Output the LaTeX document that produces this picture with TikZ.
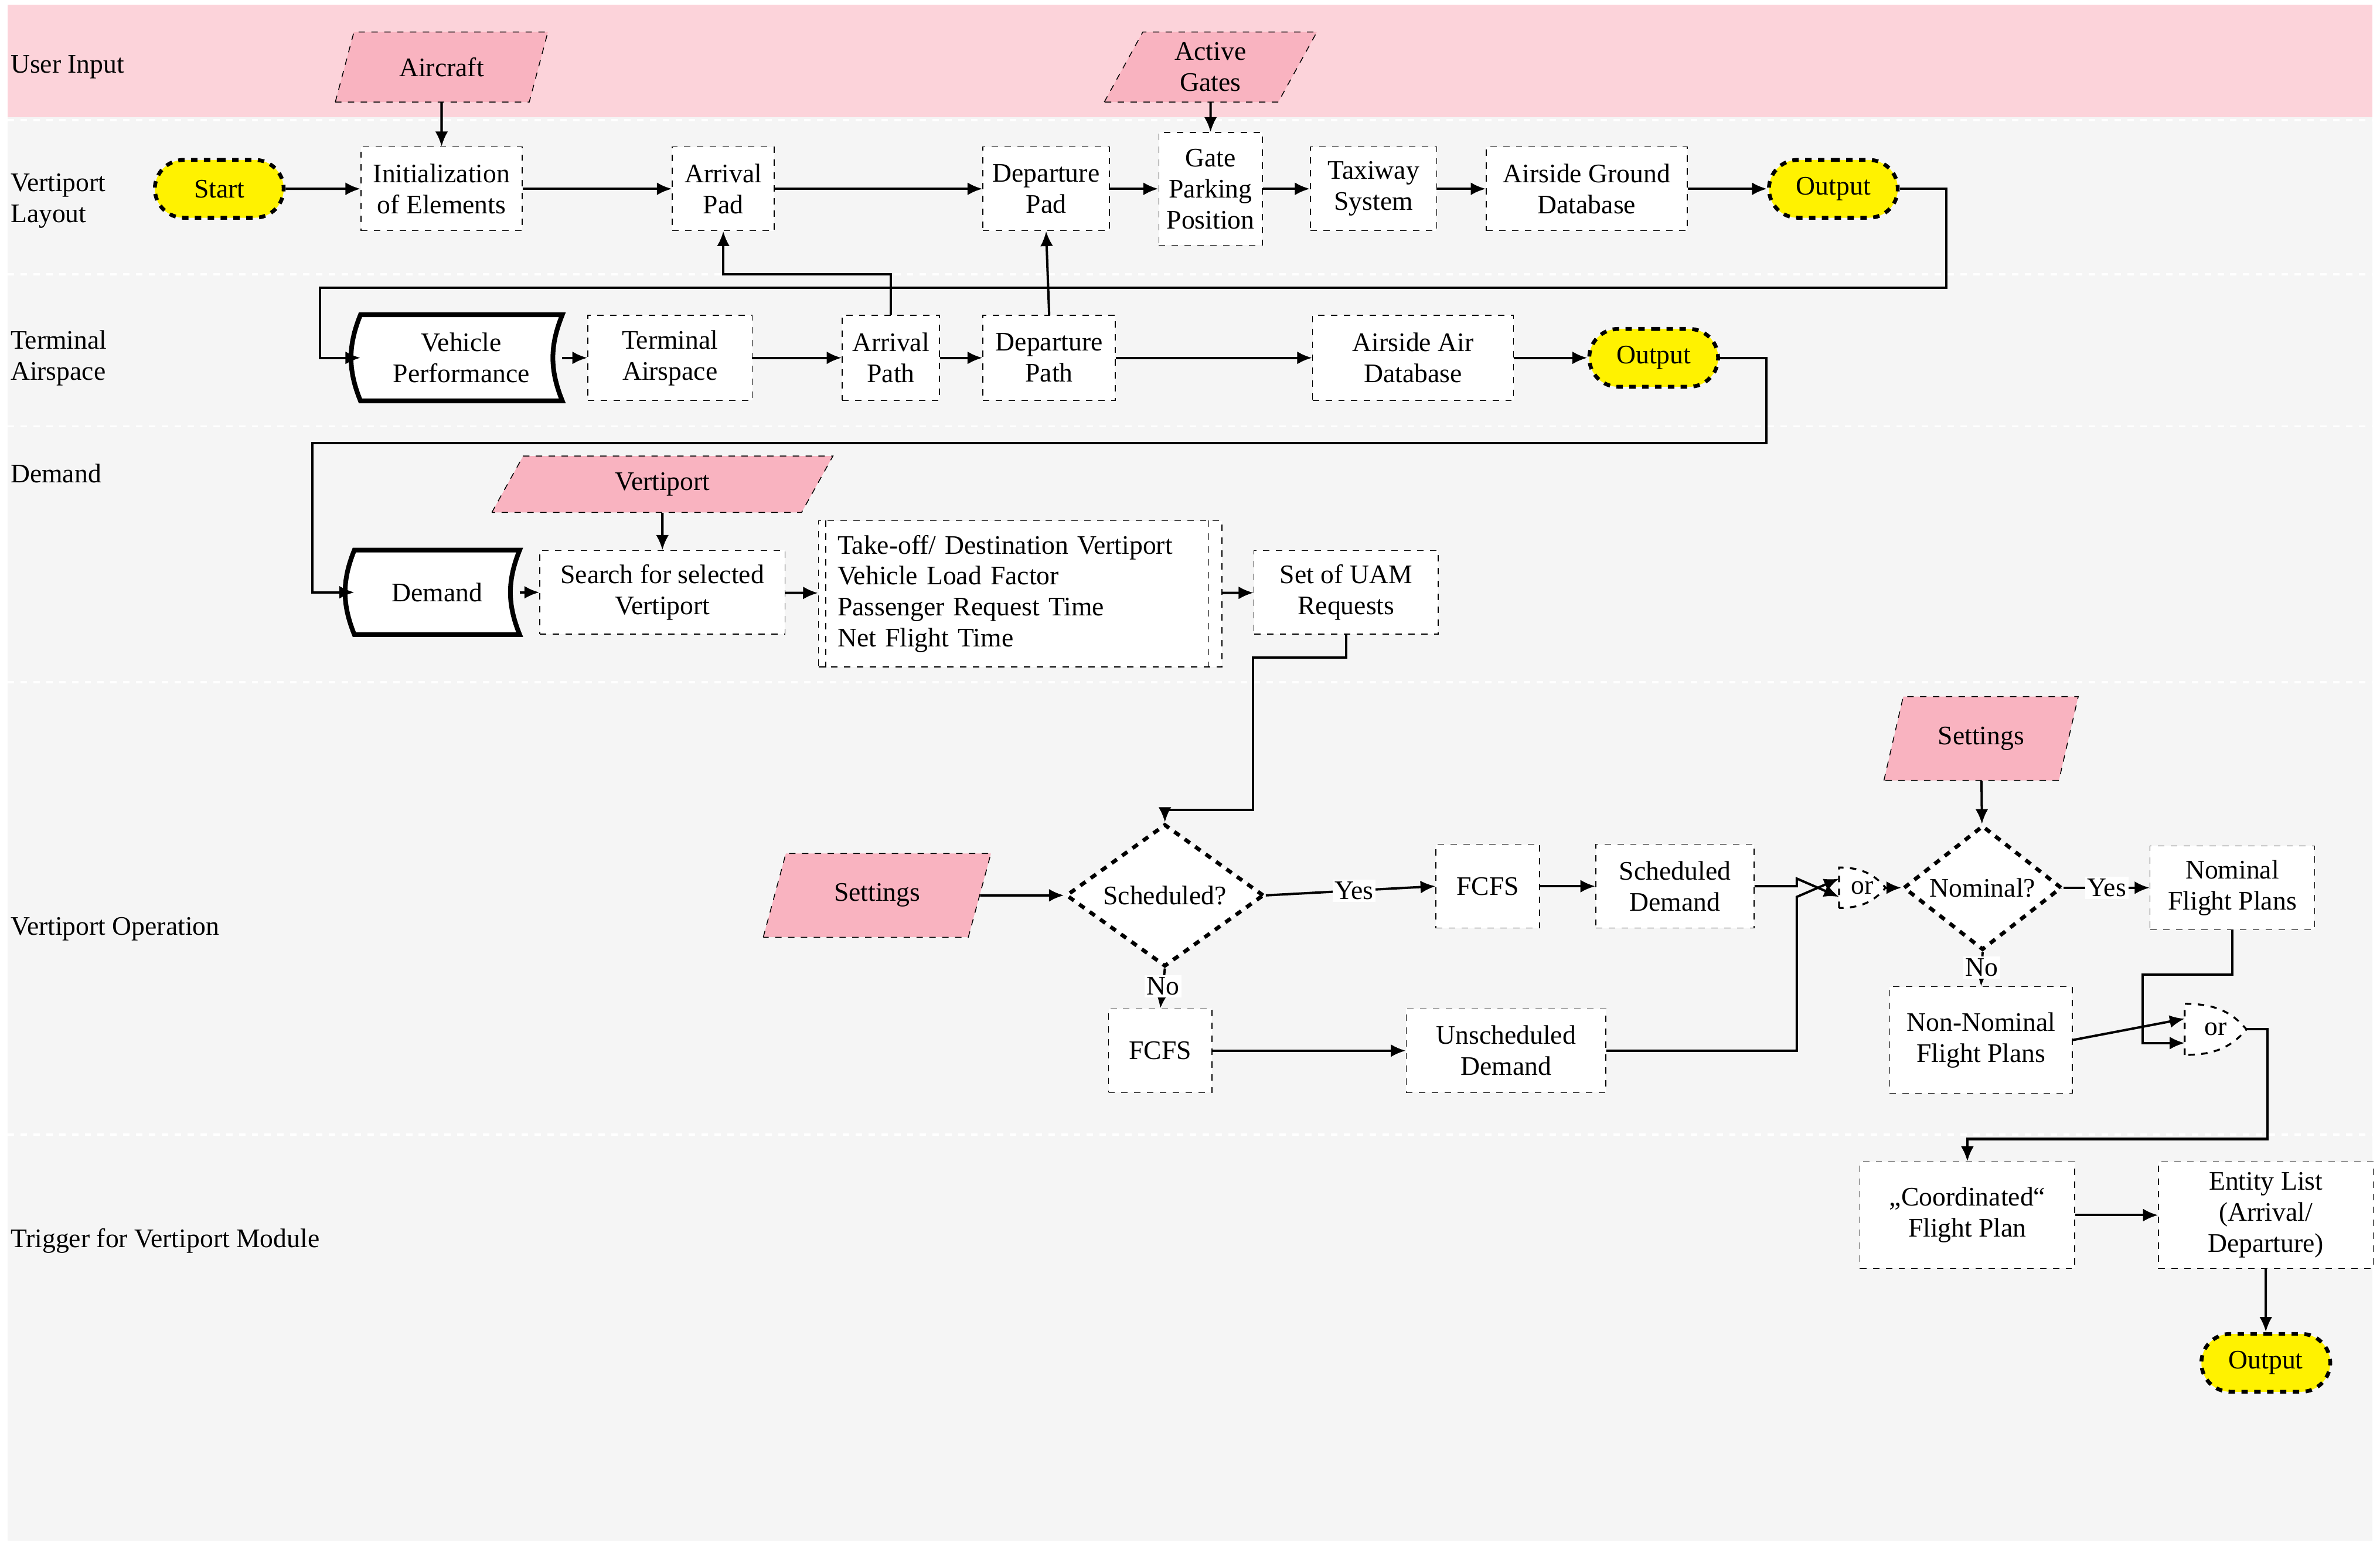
\documentclass[tikz,border=0pt]{standalone}
\usepackage{fontspec}
\setmainfont{Liberation Serif}
\usetikzlibrary{shapes.geometric,shapes.misc,arrows.meta,backgrounds}
\newdimen\pxu \pxu=0.025cm
\definecolor{lanegray}{HTML}{F5F5F5}
\definecolor{lanepink}{HTML}{FCD3DA}
\definecolor{datapink}{HTML}{F9B3C0}
\definecolor{termyellow}{HTML}{FFF200}
\pgfdeclarelayer{lanes}
\pgfdeclarelayer{shapes}
\pgfsetlayers{lanes,shapes,main}
\tikzset{
  proc/.style={draw,dashed,fill=white,align=center,inner sep=2pt},
  data/.style={trapezium,trapezium left angle=68,trapezium right angle=112,trapezium stretches=true,draw,dashed,fill=datapink,align=center,inner sep=1pt},
  term/.style={rounded rectangle,draw,dashed,line width=1.8pt,fill=termyellow,minimum width=94\pxu,minimum height=38\pxu},
  decide/.style={diamond,draw,dashed,line width=1.8pt,fill=white,inner sep=0pt,minimum width=130\pxu,minimum height=56\pxu},
  lane/.style={anchor=west,align=left},
  lbl/.style={fill=white,inner sep=1pt},
  arr/.style={line width=1.1pt,-{Latex[length=7pt,width=6pt]}},
  ln/.style={line width=1.1pt},
}
\begin{document}
\begin{tikzpicture}[x=0.025cm,y=-0.025cm,font=\fontsize{12.5}{14.5}\selectfont]
\useasboundingbox (0,0) rectangle (1563,1015);
% swim lanes
\begin{pgfonlayer}{lanes}
\fill[lanegray] (5,3) rectangle (1558,1012);
\fill[lanepink] (5,3) rectangle (1558,77);
\foreach \y in {79,180,280,448,745}
  \draw[white,dashed,line width=1pt] (5,\y) -- (1558,\y);
\end{pgfonlayer}
\node[lane] at (2,44) {User Input};
\node[lane] at (2,132) {Vertiport\\Layout};
\node[lane] at (2,235) {Terminal\\Airspace};
\node[lane] at (2,311) {Demand};
\node[lane] at (2,610) {Vertiport Operation};
\node[lane] at (2,815) {Trigger for Vertiport Module};

% vertiport layout
\node[data,minimum width=140\pxu,minimum height=46\pxu] (aircraft) at (290,44) {Aircraft};
\node[data,minimum width=140\pxu,minimum height=46\pxu] (gates) at (795,44) {Active\\Gates};
\node[term] (start) at (144,124) {Start};
\node[proc,minimum width=106\pxu,minimum height=55\pxu] (init) at (290,124) {Initialization\\of Elements};
\node[proc,minimum width=67\pxu,minimum height=55\pxu] (apad) at (475,124) {Arrival\\Pad};
\node[proc,minimum width=83\pxu,minimum height=55\pxu] (dpad) at (687,124) {Departure\\Pad};
\node[proc,minimum width=68\pxu,minimum height=74\pxu] (gpp) at (795,124) {Gate\\Parking\\Position};
\node[proc,minimum width=83\pxu,minimum height=55\pxu] (taxi) at (902,124) {Taxiway\\System};
\node[proc,minimum width=132\pxu,minimum height=55\pxu] (agdb) at (1042,124) {Airside Ground\\Database};
\node[term] (outA) at (1204,124) {Output};
\draw[arr] (aircraft) -- (init);
\draw[arr] (gates) -- (gpp);
\draw[arr] (start) -- (init);
\draw[arr] (init) -- (apad);
\draw[arr] (apad) -- (dpad);
\draw[arr] (dpad) -- (gpp);
\draw[arr] (gpp) -- (taxi);
\draw[arr] (taxi) -- (agdb);
\draw[arr] (agdb) -- (outA);

% terminal airspace
\node[minimum width=132\pxu,minimum height=56\pxu,align=center] (vperf) at (303,235) {Vehicle\\Performance};
\node[proc,minimum width=108\pxu,minimum height=56\pxu] (tair) at (440,235) {Terminal\\Airspace};
\node[proc,minimum width=64\pxu,minimum height=56\pxu] (apath) at (585,235) {Arrival\\Path};
\node[proc,minimum width=87\pxu,minimum height=56\pxu] (dpath) at (689,235) {Departure\\Path};
\node[proc,minimum width=132\pxu,minimum height=56\pxu] (aadb) at (928,235) {Airside Air\\Database};
\node[term] (outB) at (1086,235) {Output};
\draw[arr] (outA.east) -- (1278,124) -- (1278,189) -- (210,189) |- (vperf.west);
\draw[arr] (vperf) -- (tair);
\draw[arr] (tair) -- (apath);
\draw[arr] (apath) -- (dpath);
\draw[arr] (dpath) -- (aadb);
\draw[arr] (aadb) -- (outB);
\draw[arr] (apath.north) -- (585,180) -| (apad.south);
\draw[arr] (dpath.north) -- (dpad.south);

% demand
\node[data,minimum width=225\pxu,minimum height=37\pxu] (vport) at (435,318) {Vertiport};
\node[minimum width=108\pxu,minimum height=55\pxu] (demand) at (287,389) {Demand};
\node[proc,minimum width=161\pxu,minimum height=55\pxu] (search) at (435,389) {Search for selected\\Vertiport};
\node[proc,minimum width=265\pxu,minimum height=96\pxu,align=left,text width=240\pxu] (attr) at (670,390)
  {Take-off/ Destination Vertiport\\Vehicle Load Factor\\Passenger Request Time\\Net Flight Time};
\draw[dashed] ([xshift=5\pxu]attr.north west) -- ([xshift=5\pxu]attr.south west);
\draw[dashed] ([xshift=-9\pxu]attr.north east) -- ([xshift=-9\pxu]attr.south east);
\node[proc,minimum width=121\pxu,minimum height=55\pxu] (uam) at (884,389) {Set of UAM\\Requests};
\draw[arr] (outB.east) -- (1160,235) -- (1160,291) -- (205,291) |- (demand.west);
\draw[arr] (vport) -- (search);
\draw[arr] (demand) -- (search);
\draw[arr] (search) -- (attr);
\draw[arr] (attr) -- (uam);

% stored data shapes
\begin{pgfonlayer}{shapes}
\foreach \s in {vperf,demand}
  \draw[line width=2.2pt,fill=white] (\s.north west) to[bend right=22] (\s.south west)
    -- (\s.south east) to[bend left=22] (\s.north east) -- cycle;
\end{pgfonlayer}

% vertiport operation
\node[decide] (sched) at (765,588) {Scheduled?};
\node[data,minimum width=150\pxu,minimum height=55\pxu] (setA) at (576,588) {Settings};
\node[proc,minimum width=68\pxu,minimum height=55\pxu] (fcfsA) at (977,582) {FCFS};
\node[proc,minimum width=104\pxu,minimum height=55\pxu] (sdem) at (1100,582) {Scheduled\\Demand};
\node[proc,minimum width=68\pxu,minimum height=55\pxu] (fcfsB) at (762,690) {FCFS};
\node[proc,minimum width=131\pxu,minimum height=55\pxu] (udem) at (989,690) {Unscheduled\\Demand};
\node[minimum width=30\pxu,minimum height=26\pxu,inner sep=0pt] (orA) at (1223,583) {or};
\node[decide,minimum width=104\pxu] (nom) at (1302,583) {Nominal?};
\node[data,minimum width=128\pxu,minimum height=55\pxu] (setB) at (1301,485) {Settings};
\node[proc,minimum width=108\pxu,minimum height=55\pxu] (nfp) at (1466,583) {Nominal\\Flight Plans};
\node[proc,minimum width=120\pxu,minimum height=70\pxu] (nnfp) at (1301,683) {Non-Nominal\\Flight Plans};
\node[minimum width=40\pxu,minimum height=33\pxu,inner sep=0pt] (orB) at (1455,676) {or};
\begin{pgfonlayer}{shapes}
\foreach \s in {orA,orB}
  \draw[dashed,line width=0.9pt,fill=white] (\s.south west) -- (\s.north west)
    to[out=0,in=130] (\s.east) to[out=-130,in=0] (\s.south west);
\end{pgfonlayer}
\draw[arr] (uam.south) -- (884,432) -- (823,432) -- (823,532) -| (sched.north);
\draw[arr] (setA) -- (sched);
\draw[arr] (sched.east) -- node[lbl,pos=0.52]{Yes} (fcfsA.west);
\draw[arr] (sched.south) -- node[lbl,pos=0.45]{No} (fcfsB.north);
\draw[arr] (fcfsA) -- (sdem);
\draw[arr] (fcfsB) -- (udem);
\draw[arr] (sdem.east) -- (1180,582) -- (1180,577) -- ([yshift=-6\pxu]orA.west);
\draw[arr] (udem.east) -- (1180,690) -- (1180,589) -- ([yshift=6\pxu]orA.west);
\draw[arr] (orA.east) -- (nom.west);
\draw[arr] (setB) -- (nom);
\draw[arr] (nom.east) -- node[lbl,pos=0.5]{Yes} (nfp.west);
\draw[arr] (nom.south) -- node[lbl,pos=0.45]{No} (nnfp.north);
\draw[arr] (nfp.south) -- (1466,640) -- (1407,640) |- ([yshift=-9\pxu]orB.west);
\draw[arr] (nnfp.east) -- ([yshift=7\pxu]orB.west);

% trigger
\node[proc,minimum width=141\pxu,minimum height=70\pxu] (coord) at (1292,798) {„Coordinated“\\Flight Plan};
\node[proc,minimum width=141\pxu,minimum height=70\pxu] (entity) at (1488,798) {Entity List\\(Arrival/\\Departure)};
\node[term] (outC) at (1488,895) {Output};
\draw[arr] (orB.east) -- (1489,676) -- (1489,748) -| (coord.north);
\draw[arr] (coord) -- (entity);
\draw[arr] (entity) -- (outC);
\end{tikzpicture}
\end{document}
